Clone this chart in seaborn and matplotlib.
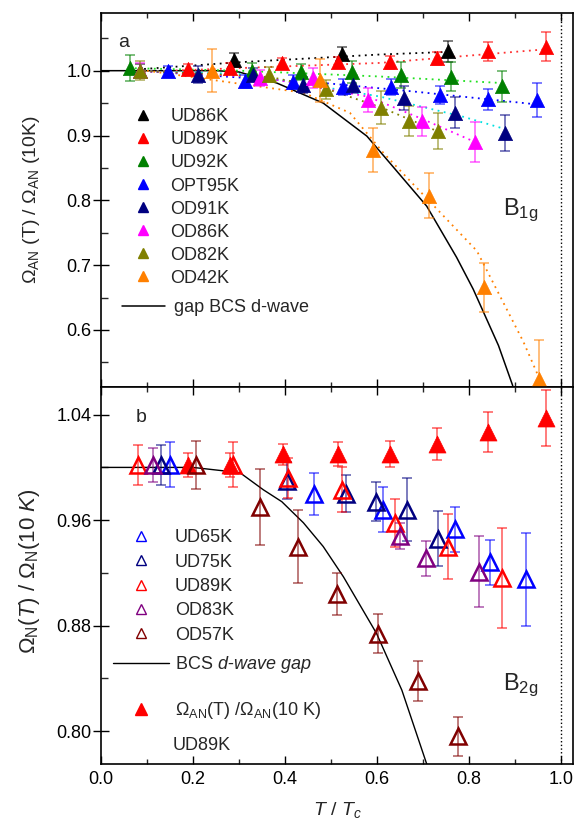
import numpy as np
import pandas as pd
import matplotlib
matplotlib.use("Agg")
import matplotlib.pyplot as plt
import seaborn as sns
from matplotlib.lines import Line2D

# ---------------- data: panel a (B1g) ----------------
a_names = ["UD86K", "UD89K", "UD92K", "OPT95K", "OD91K", "OD86K", "OD82K", "OD42K"]
a_colors = ["#000000", "#FF0000", "#008000", "#0000FF", "#000080", "#FF00FF", "#808000", "#FF8000"]
a_fitcolors = ["#000000", "#FF3030", "#20E020", "#0000FF", "#00E0E0", "#FF00FF", "#808000", "#FF8000"]

a_x = {
    "UD86K": [0.085, 0.29, 0.524, 0.755],
    "UD89K": [0.19, 0.28, 0.393, 0.516, 0.628, 0.73, 0.842, 0.967],
    "UD92K": [0.063, 0.328, 0.435, 0.545, 0.652, 0.760, 0.871],
    "OPT95K": [0.146, 0.313, 0.417, 0.526, 0.630, 0.737, 0.842, 0.947],
    "OD91K": [0.211, 0.33, 0.439, 0.548, 0.659, 0.770, 0.878],
    "OD86K": [0.085, 0.346, 0.46, 0.58, 0.697, 0.813],
    "OD82K": [0.085, 0.365, 0.489, 0.609, 0.670, 0.732],
    "OD42K": [0.241, 0.476, 0.592, 0.714, 0.833, 0.953],
}
a_y = {
    "UD86K": [1.0, 1.016, 1.026, 1.030],
    "UD89K": [1.003, 1.004, 1.012, 1.013, 1.013, 1.019, 1.030, 1.037],
    "UD92K": [1.004, 1.0, 0.998, 0.998, 0.994, 0.991, 0.976],
    "OPT95K": [1.0, 0.984, 0.983, 0.975, 0.975, 0.963, 0.956, 0.955],
    "OD91K": [0.994, 0.994, 0.978, 0.978, 0.958, 0.935, 0.904],
    "OD86K": [1.0, 0.989, 0.989, 0.955, 0.922, 0.890],
    "OD82K": [1.0, 0.994, 0.971, 0.943, 0.922, 0.907],
    "OD42K": [1.0, 0.985, 0.878, 0.807, 0.666, 0.525],
}
a_err = {
    "UD86K": [0.01, 0.011, 0.01, 0.016],
    "UD89K": [0.008, 0.008, 0.008, 0.008, 0.01, 0.01, 0.015, 0.022],
    "UD92K": [0.02, 0.012, 0.013, 0.017, 0.02, 0.022, 0.024],
    "OPT95K": [0.008, 0.01, 0.01, 0.012, 0.012, 0.014, 0.016, 0.026],
    "OD91K": [0.013, 0.01, 0.012, 0.012, 0.018, 0.024, 0.028],
    "OD86K": [0.012, 0.012, 0.015, 0.019, 0.022, 0.031],
    "OD82K": [0.015, 0.012, 0.015, 0.026, 0.023, 0.028],
    "OD42K": [0.033, 0.033, 0.034, 0.035, 0.038, 0.06],
}
# dotted guide lines
a_fit_x = {
    "UD86K": [0.08, 0.3, 0.607, 0.755],
    "UD89K": [0.08, 0.3, 0.607, 0.967],
    "UD92K": [0.06, 0.3, 0.607, 0.871],
    "OPT95K": [0.08, 0.5, 0.678, 0.947],
    "OD91K": [0.08, 0.3, 0.44, 0.607, 0.787, 0.878],
    "OD86K": [0.08, 0.35, 0.58, 0.70, 0.813],
    "OD82K": [0.08, 0.37, 0.49, 0.61, 0.73],
    "OD42K": [0.10, 0.44, 0.541, 0.614, 0.817, 0.918, 0.953],
}
a_fit_y = {
    "UD86K": [1.002, 1.013, 1.025, 1.029],
    "UD89K": [0.998, 1.004, 1.012, 1.033],
    "UD92K": [1.004, 1.0, 0.991, 0.981],
    "OPT95K": [1.0, 0.98, 0.968, 0.948],
    "OD91K": [1.0, 0.995, 0.98, 0.96, 0.929, 0.91],
    "OD86K": [1.0, 0.99, 0.96, 0.925, 0.89],
    "OD82K": [1.0, 0.99, 0.972, 0.943, 0.907],
    "OD42K": [1.0, 0.966, 0.935, 0.873, 0.722, 0.582, 0.525],
}
bcs_a_x = [0.0, 0.25, 0.30, 0.382, 0.483, 0.578, 0.708, 0.773, 0.809, 0.864, 0.895]
bcs_a_y = [1.0, 1.0, 0.998, 0.981, 0.950, 0.899, 0.791, 0.712, 0.663, 0.576, 0.514]

# ---------------- data: panel b (B2g) ----------------
b_names = ["UD65K", "UD75K", "UD89K", "OD83K", "OD57K"]
b_colors = ["#0000FF", "#000080", "#FF0000", "#800080", "#800000"]
b_x = {
    "UD65K": [0.150, 0.462, 0.614, 0.770, 0.846, 0.924],
    "UD75K": [0.130, 0.404, 0.533, 0.598, 0.666, 0.733],
    "UD89K": [0.081, 0.288, 0.407, 0.523, 0.638, 0.755, 0.872],
    "OD83K": [0.114, 0.649, 0.707, 0.822],
    "OD57K": [0.207, 0.346, 0.429, 0.512, 0.603, 0.690, 0.775],
}
b_y = {
    "UD65K": [1.002, 0.980, 0.968, 0.953, 0.928, 0.915],
    "UD75K": [1.002, 0.990, 0.980, 0.974, 0.968, 0.946],
    "UD89K": [1.002, 1.002, 0.992, 0.983, 0.958, 0.940, 0.916],
    "OD83K": [1.002, 0.948, 0.931, 0.921],
    "OD57K": [1.002, 0.970, 0.940, 0.904, 0.874, 0.838, 0.796],
}
b_err = {
    "UD65K": [0.017, 0.016, 0.017, 0.017, 0.017, 0.035],
    "UD75K": [0.015, 0.014, 0.014, 0.015, 0.024, 0.021],
    "UD89K": [0.015, 0.017, 0.015, 0.017, 0.018, 0.025, 0.038],
    "OD83K": [0.013, 0.01, 0.013, 0.027],
    "OD57K": [0.018, 0.029, 0.028, 0.016, 0.015, 0.015, 0.015],
}
an_x = [0.19, 0.28, 0.396, 0.516, 0.628, 0.730, 0.842, 0.967]
an_y = [1.002, 1.002, 1.010, 1.010, 1.010, 1.018, 1.027, 1.0375]
an_err = [0.009, 0.009, 0.008, 0.009, 0.010, 0.012, 0.015, 0.021]
bcs_b_x = [0.0, 0.2, 0.251, 0.302, 0.353, 0.393, 0.44, 0.483, 0.527, 0.599, 0.654, 0.708]
bcs_b_y = [1.0, 1.0, 0.998, 0.996, 0.983, 0.974, 0.958, 0.940, 0.917, 0.874, 0.831, 0.775]

# ---------------- style ----------------
sns.set_theme(style="ticks")
plt.rcParams["font.family"] = ["Liberation Sans", "DejaVu Sans"]
plt.rcParams["mathtext.fontset"] = "custom"
plt.rcParams["mathtext.rm"] = "Liberation Sans"
plt.rcParams["mathtext.it"] = "Liberation Sans:italic"
plt.rcParams["mathtext.bf"] = "Liberation Sans:bold"

fig = plt.figure(figsize=(5.75, 8.21), dpi=100)
L, R = 101 / 575, 573 / 575
ax1 = fig.add_axes([L, 1 - 387 / 821, R - L, (387 - 13) / 821])
ax2 = fig.add_axes([L, 1 - 764 / 821, R - L, (764 - 387) / 821])

for ax in (ax1, ax2):
    ax.set_xlim(0, 1.026)
    ax.axvline(1.0, color="black", ls=":", lw=1.0, zorder=1)
    ax.tick_params(axis="x", which="major", direction="in", length=6, width=1,
                   top=True, labelsize=13, colors="black", pad=5)
    ax.tick_params(axis="x", which="minor", direction="in", length=3.5, width=1,
                   top=True)
    ax.tick_params(axis="y", which="major", direction="inout", length=12, width=1,
                   right=False, labelsize=13, colors="black", pad=1)
    ax.tick_params(axis="y", which="minor", direction="in", length=5, width=1,
                   right=False)
    ax.set_xticks(np.arange(0, 1.01, 0.2))
    ax.set_xticks(np.arange(0.1, 1.01, 0.2), minor=True)
    for s in ax.spines.values():
        s.set_linewidth(1.2)
        s.set_color("black")

FS_LEG = 13

# ---- panel a ----
ax1.set_ylim(0.512, 1.089)
ax1.set_yticks([0.6, 0.7, 0.8, 0.9, 1.0])
ax1.set_yticklabels(["0.6", "0.7", "0.8", "0.9", "1.0"])
ax1.set_yticks(np.arange(0.55, 1.06, 0.1), minor=True)
ax1.tick_params(axis="x", labelbottom=False)

sns.lineplot(x=bcs_a_x, y=bcs_a_y, ax=ax1, color="black", lw=1.1, sort=False,
             zorder=2, legend=False)
for name, c, fc in zip(a_names, a_colors, a_fitcolors):
    sns.lineplot(x=a_fit_x[name], y=a_fit_y[name], ax=ax1, color=fc, lw=1.3,
                 ls=(0, (1, 2.5)), sort=False, zorder=2, legend=False)
for name, c in zip(a_names, a_colors):
    ax1.errorbar(a_x[name], a_y[name], yerr=a_err[name], fmt="none", ecolor=c,
                 alpha=0.65, elinewidth=1.1, capsize=3.5, capthick=1.1, zorder=3)
    df = pd.DataFrame({"x": a_x[name], "y": a_y[name]})
    sns.scatterplot(data=df, x="x", y="y", ax=ax1, marker="^", s=105,
                    color=c, edgecolor=c, linewidth=0.5, zorder=4, legend=False)

handles = [Line2D([], [], ls="none", marker="^", ms=7, color=c) for c in a_colors]
leg_a = ax1.legend(handles, a_names, loc="upper left",
                   bbox_to_anchor=(0.044, 0.745), frameon=False, fontsize=FS_LEG,
                   handlelength=2.4, handletextpad=0.3, labelspacing=0.335,
                   borderpad=0, borderaxespad=0)
ax1.add_artist(leg_a)
ax1.legend([Line2D([], [], color="black", lw=1.1)], ["gap BCS d-wave"],
           loc="upper left", bbox_to_anchor=(0.044, 0.234), frameon=False,
           fontsize=FS_LEG, handlelength=2.4, handletextpad=0.5, borderpad=0,
           borderaxespad=0)
ax1.text(0.037, 0.922, "a", transform=ax1.transAxes, fontsize=14, va="center")
ax1.text(0.89, 0.473, r"B$_{\rm 1g}$", transform=ax1.transAxes, fontsize=17,
         ha="center", va="center")
ax1.set_xlabel("")
ax1.set_ylabel(r"$\Omega_{\rm AN}$ (T) / $\Omega_{\rm AN}$ (10K)", fontsize=14)
ax1.yaxis.set_label_coords(-0.125, 0.50)

# ---- panel b ----
ax2.set_ylim(0.775, 1.061)
ax2.set_yticks([0.80, 0.88, 0.96, 1.04])
ax2.set_yticklabels(["0.80", "0.88", "0.96", "1.04"])
ax2.set_yticks([0.84, 0.92, 1.00], minor=True)
ax2.set_xticklabels(["0.0", "0.2", "0.4", "0.6", "0.8", "1.0"])

sns.lineplot(x=bcs_b_x, y=bcs_b_y, ax=ax2, color="black", lw=1.0, sort=False,
             zorder=2, legend=False)
ax2.errorbar(an_x, an_y, yerr=an_err, fmt="none", ecolor="#FF0000", alpha=0.65,
             elinewidth=1.1, capsize=3.5, capthick=1.1, zorder=3)
sns.scatterplot(x=an_x, y=an_y, ax=ax2, marker="^", s=150,
                color="#FF0000", edgecolor="#FF0000", linewidth=0.5, zorder=4,
                legend=False)
for name, c in zip(b_names, b_colors):
    ax2.errorbar(b_x[name], b_y[name], yerr=b_err[name], fmt="none", ecolor=c,
                 alpha=0.65, elinewidth=1.1, capsize=3.5, capthick=1.1, zorder=3)
    ax2.plot(b_x[name], b_y[name], ls="none", marker="^", ms=11, mfc="none",
             mec=c, mew=1.8, zorder=5)

hb = [Line2D([], [], ls="none", marker="^", ms=7.5, mfc="none", mec=c, mew=1.0)
      for c in b_colors]
leg2 = ax2.legend(hb, b_names, loc="upper left", bbox_to_anchor=(0.025, 0.623),
                  frameon=False, fontsize=FS_LEG, handlelength=3.1,
                  handletextpad=0.35, labelspacing=0.41, borderpad=0,
                  borderaxespad=0)
ax2.add_artist(leg2)
leg3 = ax2.legend([Line2D([], [], color="black", lw=1.0)],
                  [r"BCS $\mathit{d}$-$\mathit{wave\ gap}$"], loc="upper left",
                  bbox_to_anchor=(0.025, 0.292), frameon=False, fontsize=FS_LEG,
                  handlelength=3.1, handletextpad=0.35, borderpad=0,
                  borderaxespad=0)
ax2.add_artist(leg3)
hb2 = [Line2D([], [], ls="none", marker="^", ms=8, color="#FF0000")]
ax2.legend(hb2, [r"$\Omega_{\rm AN}$(T) /$\Omega_{\rm AN}$(10 K)"], loc="upper left",
           bbox_to_anchor=(0.025, 0.17), frameon=False, fontsize=FS_LEG,
           handlelength=3.1, handletextpad=0.35, borderpad=0, borderaxespad=0)
ax2.text(0.151, 0.05, "UD89K", transform=ax2.transAxes, fontsize=FS_LEG,
         va="center")
ax2.text(0.073, 0.918, "b", transform=ax2.transAxes, fontsize=14, va="center")
ax2.text(0.89, 0.21, r"B$_{\rm 2g}$", transform=ax2.transAxes, fontsize=17,
         ha="center", va="center")
ax2.set_xlabel(r"$\mathit{T}$ / $\mathit{T}_{\mathit{c}}$", fontsize=14, labelpad=9)
ax2.set_ylabel(r"$\Omega_{\rm N}$($\mathit{T}$) / $\Omega_{\rm N}$(10 $\mathit{K}$)",
               fontsize=16)
ax2.yaxis.set_label_coords(-0.125, 0.51)

fig.savefig("out.png", dpi=100)
